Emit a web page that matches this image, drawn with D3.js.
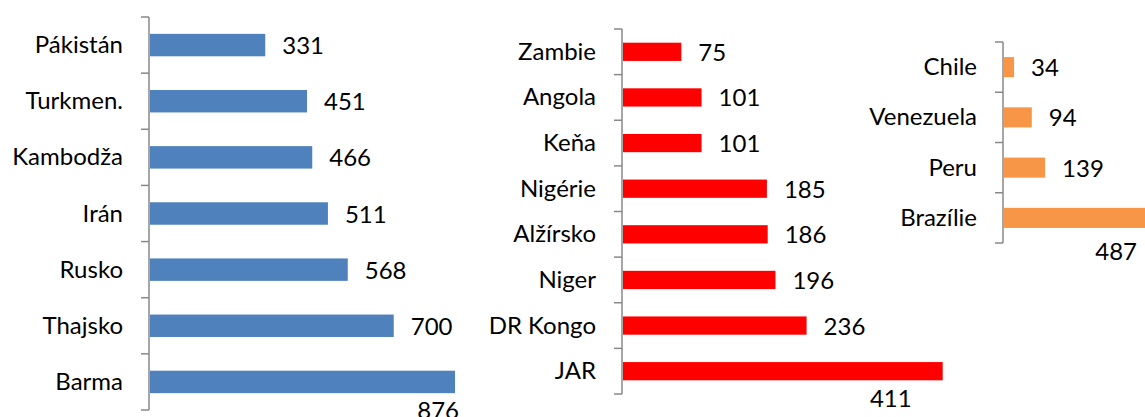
<!DOCTYPE html>
<html lang="cs">
<head>
  <meta charset="UTF-8">
  <title>Bar panels</title>
  <script src="https://d3js.org/d3.v7.min.js"></script>
  <style>
    body { margin: 0; background: #fff; }
    svg { display: block; }
    text { font-family: Lato, 'Noto Sans', sans-serif; font-size: 24px; fill: #000; }
  </style>
</head>
<body>
  <svg id="chart" width="1145" height="417"></svg>
  <script>
    // data
    const asiaCountries = ["Pákistán", "Turkmen.", "Kambodža", "Irán", "Rusko", "Thajsko", "Barma"];
    const asiaValues = [331, 451, 466, 511, 568, 700, 876];

    const africaCountries = ["Zambie", "Angola", "Keňa", "Nigérie", "Alžírsko", "Niger", "DR Kongo", "JAR"];
    const africaValues = [75, 101, 101, 185, 186, 196, 236, 411];

    const americaCountries = ["Chile", "Venezuela", "Peru", "Brazílie"];
    const americaValues = [34, 94, 139, 487];

    const svg = d3.select("#chart");

    // layout of the three panels
    const panels = [
      { cats: asiaCountries, vals: asiaValues, color: "#4F81BD",
        axisX: 149, top: 17, bottom: 410, xEnd: 455,
        lastDx: 4, lastDy: 37 },
      { cats: africaCountries, vals: africaValues, color: "#FF0000",
        axisX: 622, top: 29, bottom: 394, xEnd: 942.7,
        lastDx: -31, lastDy: 36 },
      { cats: americaCountries, vals: americaValues, color: "#F79646",
        axisX: 1003, top: 42, bottom: 243, xEnd: 1148,
        lastDx: -11, lastDy: 42 }
    ];

    panels.forEach(p => {
      const g = svg.append("g");

      const y = d3.scaleBand()
        .domain(p.cats)
        .range([p.top, p.bottom])
        .padding(0);

      const x = d3.scaleLinear()
        .domain([0, d3.max(p.vals)])
        .range([p.axisX + 1, p.xEnd]);

      const barH = y.bandwidth() * 0.4;
      const rows = p.cats.map((c, i) => ({ cat: c, val: p.vals[i], last: i === p.cats.length - 1 }));

      // bars
      g.selectAll("rect")
        .data(rows)
        .enter().append("rect")
        .attr("x", x(0))
        .attr("y", d => y(d.cat) + y.bandwidth() / 2 - barH / 2)
        .attr("width", d => x(d.val) - x(0))
        .attr("height", barH)
        .attr("fill", p.color);

      // axis with ticks between categories
      const axisG = g.append("g").attr("stroke", "#898989").attr("stroke-width", 1.5);
      axisG.append("line")
        .attr("x1", p.axisX).attr("x2", p.axisX)
        .attr("y1", p.top).attr("y2", p.bottom);
      const tickYs = p.cats.map(c => y(c)).concat([p.bottom]);
      axisG.selectAll("line.tick")
        .data(tickYs)
        .enter().append("line")
        .attr("class", "tick")
        .attr("x1", p.axisX - 8).attr("x2", p.axisX)
        .attr("y1", d => d).attr("y2", d => d);

      // category labels
      g.selectAll("text.cat")
        .data(rows)
        .enter().append("text")
        .attr("class", "cat")
        .attr("text-anchor", "end")
        .attr("x", p.axisX - 26)
        .attr("y", d => y(d.cat) + y.bandwidth() / 2 + 8)
        .text(d => d.cat);

      // value labels
      g.selectAll("text.val")
        .data(rows)
        .enter().append("text")
        .attr("class", "val")
        .attr("text-anchor", d => d.last ? "end" : "start")
        .attr("x", d => d.last ? x(d.val) + p.lastDx : x(d.val) + 17)
        .attr("y", d => y(d.cat) + y.bandwidth() / 2 + (d.last ? p.lastDy : 9))
        .text(d => d.val);
    });
  </script>
</body>
</html>
